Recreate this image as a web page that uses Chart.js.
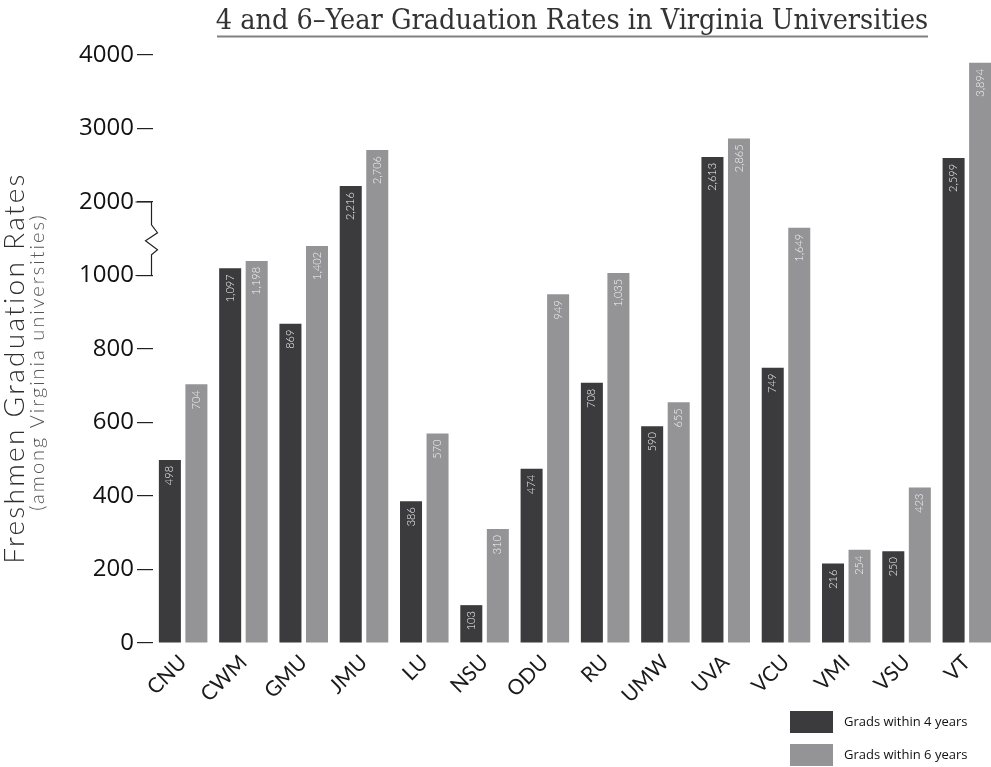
<!DOCTYPE html>
<html>
<head>
<meta charset="utf-8">
<script src="https://cdn.jsdelivr.net/npm/chart.js@4.4.1/dist/chart.umd.min.js"></script>
<style>
  html, body { margin: 0; padding: 0; background: #fff; overflow: hidden; }
  #wrap { width: 991px; height: 767px; overflow: hidden; }
</style>
</head>
<body>
<div id="wrap">
  <canvas id="gradChart" width="997" height="767" style="width:997px;height:767px"></canvas>
</div>
<script>
// schools on the x axis
const schools = ['CNU', 'CWM', 'GMU', 'JMU', 'LU', 'NSU', 'ODU', 'RU', 'UMW', 'UVA', 'VCU', 'VMI', 'VSU', 'VT'];
// freshmen graduating within 4 / 6 years
const within4 = [498, 1097, 869, 2216, 386, 103, 474, 708, 590, 2613, 749, 216, 250, 2599];
const within6 = [704, 1198, 1402, 2706, 570, 310, 949, 1035, 655, 2865, 1649, 254, 423, 3894];
// the y axis is broken above 1000: each step is 200 below, 1000 above
const yTickLabels = ['0', '200', '400', '600', '800', '1000', '2000', '3000', '4000'];
const seriesNames = ['Grads within 4 years', 'Grads within 6 years'];

const DARK = '#3b3b3d';
const LIGHT = '#949496';
const BREAK_AT = 1000;
const SQUEEZE = 0.2; // 1000 real units above the break = 200 axis units

function toAxis(v) {
    return v <= BREAK_AT ? v : BREAK_AT + (v - BREAK_AT) * SQUEEZE;
}

// title + underline
const titlePlugin = {
    id: 'titleLine',
    afterDraw(chart) {
        const ctx = chart.ctx;
        ctx.save();
        ctx.fillStyle = '#333';
        ctx.font = '300 28.5px "DejaVu Serif Condensed", "DejaVu Serif", serif';
        ctx.textAlign = 'center';
        ctx.textBaseline = 'alphabetic';
        ctx.fillText('4 and 6\u2013Year Graduation Rates in Virginia Universities', 572, 29);
        ctx.strokeStyle = '#808080';
        ctx.lineWidth = 2;
        ctx.beginPath();
        ctx.moveTo(217, 36.5);
        ctx.lineTo(928, 36.5);
        ctx.stroke();
        ctx.restore();
    }
};

// y title on two lines
const yTitlePlugin = {
    id: 'yTitle',
    afterDraw(chart) {
        const ctx = chart.ctx;
        ctx.save();
        ctx.translate(15, 368);
        ctx.rotate(-Math.PI / 2);
        ctx.textAlign = 'center';
        ctx.textBaseline = 'middle';
        ctx.fillStyle = '#2e2e2e';
        ctx.font = '300 28px Lato, sans-serif';
        ctx.letterSpacing = '2.3px';
        ctx.fillText('Freshmen Graduation Rates', 0, 0);
        ctx.restore();
        ctx.save();
        ctx.translate(38, 362);
        ctx.rotate(-Math.PI / 2);
        ctx.textAlign = 'center';
        ctx.textBaseline = 'middle';
        ctx.fillStyle = '#555';
        ctx.font = '300 20px Lato, sans-serif';
        ctx.letterSpacing = '2px';
        ctx.fillText('(among Virginia universities)', 0, 0);
        ctx.restore();
    }
};

// zigzag bracket between 1000 and 2000
const breakPlugin = {
    id: 'axisBreak',
    afterDraw(chart) {
        const y = chart.scales.y;
        const ctx = chart.ctx;
        const top = y.getPixelForValue(toAxis(2000));
        const bot = y.getPixelForValue(toAxis(1000));
        const x = chart.chartArea.left - 1.5;
        const mid = (top + bot) / 2;
        ctx.save();
        ctx.strokeStyle = '#222';
        ctx.lineWidth = 1.2;
        ctx.beginPath();
        ctx.moveTo(x - 16, top);
        ctx.lineTo(x, top);
        ctx.lineTo(x, mid - 14);
        ctx.lineTo(x + 6, mid - 6);
        ctx.lineTo(x - 6, mid + 2);
        ctx.lineTo(x + 6, mid + 11);
        ctx.lineTo(x, mid + 16);
        ctx.lineTo(x, bot);
        ctx.lineTo(x - 16, bot);
        ctx.stroke();
        ctx.restore();
    }
};

// value written up the inside of each bar
const valuePlugin = {
    id: 'barValues',
    afterDatasetsDraw(chart) {
        const ctx = chart.ctx;
        const raw = [within4, within6];
        ctx.save();
        ctx.fillStyle = '#f4f4f4';
        ctx.font = '300 11px Lato, sans-serif';
        ctx.textAlign = 'right';
        ctx.textBaseline = 'middle';
        chart.data.datasets.forEach((ds, di) => {
            chart.getDatasetMeta(di).data.forEach((bar, i) => {
                ctx.save();
                ctx.translate(bar.x, bar.y + 6);
                ctx.rotate(-Math.PI / 2);
                ctx.fillText(raw[di][i].toLocaleString('en-US'), 0, 0);
                ctx.restore();
            });
        });
        ctx.restore();
    }
};

// legend in the bottom right corner
const legendPlugin = {
    id: 'cornerLegend',
    afterDraw(chart) {
        const ctx = chart.ctx;
        ctx.save();
        ctx.font = '13px "Open Sans", sans-serif';
        ctx.textBaseline = 'middle';
        ctx.textAlign = 'left';
        chart.data.datasets.forEach((ds, i) => {
            const top = 711 + i * 33;
            ctx.fillStyle = ds.backgroundColor;
            ctx.fillRect(790, top, 43, 22);
            ctx.fillStyle = '#111';
            ctx.fillText(ds.label, 844, top + 11);
        });
        ctx.restore();
    }
};

new Chart(document.getElementById('gradChart'), {
    type: 'bar',
    data: {
        labels: schools,
        datasets: [{
            label: seriesNames[0],
            data: within4.map(toAxis),
            backgroundColor: DARK,
            borderWidth: 0
        }, {
            label: seriesNames[1],
            data: within6.map(toAxis),
            backgroundColor: LIGHT,
            borderWidth: 0
        }]
    },
    options: {
        responsive: false,
        animation: false,
        categoryPercentage: 0.88,
        barPercentage: 0.83,
        layout: { padding: { top: 55, left: 0, right: 0, bottom: 0 } },
        plugins: {
            legend: { display: false },
            title: { display: false },
            tooltip: { enabled: false }
        },
        scales: {
            x: {
                grid: { display: false, drawTicks: false },
                border: { display: false },
                ticks: {
                    minRotation: 45,
                    maxRotation: 45,
                    padding: 7,
                    color: '#1a1a1a',
                    font: { family: 'Lato', size: 21 }
                },
                afterFit(s) { s.height = 124; }
            },
            y: {
                min: 0,
                max: 1600,
                grid: {
                    drawOnChartArea: false,
                    drawTicks: true,
                    tickLength: 16,
                    tickColor: '#222',
                    lineWidth: 1.2
                },
                border: { display: false },
                ticks: {
                    stepSize: 200,
                    padding: 3,
                    color: '#111',
                    font: { family: 'Open Sans', size: 24 },
                    callback: (v, i) => yTickLabels[i]
                },
                afterFit(s) { s.width = 153; }
            }
        }
    },
    plugins: [titlePlugin, yTitlePlugin, breakPlugin, valuePlugin, legendPlugin]
});
</script>
</body>
</html>
